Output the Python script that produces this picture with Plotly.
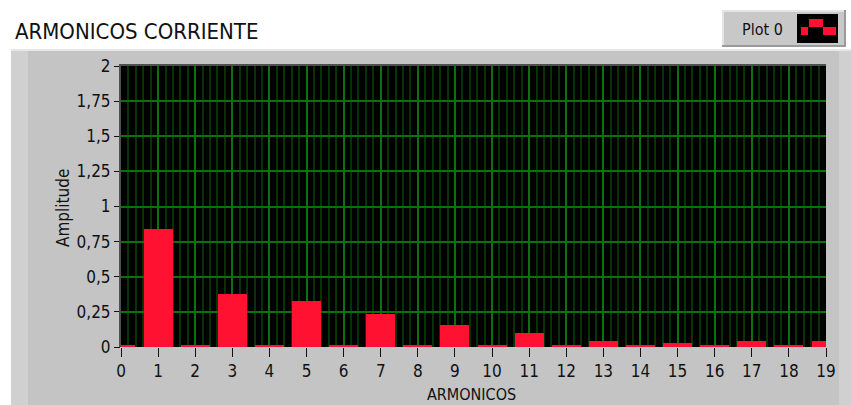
import plotly.graph_objects as go

# Harmonic spectrum of the current signal
harmonics = list(range(20))
amplitude = [0.01, 0.84, 0.01, 0.38, 0.01, 0.33, 0.01, 0.235, 0.01, 0.16,
             0.01, 0.10, 0.01, 0.04, 0.01, 0.025, 0.01, 0.045, 0.01, 0.045]
y_tick_vals = [0, 0.25, 0.5, 0.75, 1, 1.25, 1.5, 1.75, 2]
y_tick_text = ["0", "0,25", "0,5", "0,75", "1", "1,25", "1,5", "1,75", "2"]
x_tick_vals = list(range(20))

W, H = 851, 405
L, R, T, B = 121, 25, 66, 58
PW, PH = W - L - R, H - T - B

FONT = "Liberation Sans Narrow, DejaVu Sans Condensed, Liberation Sans, sans-serif"
PANEL = "#c4c4c4"
BAR_RED = "#ff1131"


def px(x):
    return (x - L) / PW


def py(y):
    return (H - B - y) / PH


def rect(x0, y0, x1, y1, fill, layer="above", line=None):
    d = dict(type="rect", xref="paper", yref="paper",
             x0=px(x0), x1=px(x1), y0=py(y1), y1=py(y0),
             fillcolor=fill, layer=layer, line=dict(width=0))
    if line:
        d["line"] = line
    return d


fig = go.Figure(go.Bar(
    x=harmonics, y=amplitude, width=0.78,
    marker=dict(color=BAR_RED, line=dict(width=0)),
))

shapes = [
    # instrument panel
    rect(11, 49, 851, 405, PANEL, "below"),
    rect(11, 49, 28, 405, "#d0d0d0", "below"),
    rect(839, 49, 851, 405, "#d0d0d0", "below"),
    rect(11, 49, 851, 51, "#e6e6e6", "below"),
    # plotting area
    rect(L, T, W - R, H - B, "#000000", "below"),
    # plotting area frame
    rect(L - 2, T - 2, W - R, T, "#505050"),
    rect(L - 2, T - 2, L, H - B, "#505050"),
    # legend box
    rect(722, 10, 846, 47, "#c8c8c8"),
    rect(722, 10, 846, 12, "#e4e4e4"),
    rect(722, 10, 724, 47, "#e4e4e4"),
    rect(722, 45, 846, 47, "#9a9a9a"),
    rect(844, 10, 846, 47, "#9a9a9a"),
    rect(797, 14, 838, 43, "#000000"),
    rect(801, 27, 808, 35, BAR_RED),
    rect(809, 19, 823, 27, BAR_RED),
    rect(823, 27, 836, 35, BAR_RED),
]

annotations = [
    dict(text="ARMONICOS CORRIENTE", xref="paper", yref="paper",
         x=px(13), y=py(31), xanchor="left", yanchor="middle", showarrow=False,
         font=dict(family=FONT, size=22, color="#111111")),
    dict(text="Plot 0", xref="paper", yref="paper",
         x=px(762), y=py(29), xanchor="center", yanchor="middle", showarrow=False,
         font=dict(family=FONT, size=16, color="#111111")),
    dict(text="ARMONICOS", xref="paper", yref="paper",
         x=px(471), y=py(394), xanchor="center", yanchor="middle", showarrow=False,
         font=dict(family=FONT, size=16, color="#111111")),
    dict(text="Amplitude", xref="paper", yref="paper", textangle=-90,
         x=px(63), y=py(208), xanchor="center", yanchor="middle", showarrow=False,
         font=dict(family=FONT, size=17, color="#111111")),
]

fig.update_layout(
    width=W, height=H,
    margin=dict(l=L, r=R, t=T, b=B, pad=0),
    paper_bgcolor="#ffffff",
    plot_bgcolor="rgba(0,0,0,0)",
    showlegend=False,
    shapes=shapes,
    annotations=annotations,
    bargap=0,
)

fig.update_xaxes(
    range=[0, 19], tickvals=x_tick_vals, ticks="outside", ticklen=9,
    tickcolor="#111111", tickwidth=1,
    showgrid=True, gridcolor="#0a720a", gridwidth=2,
    minor=dict(dtick=0.2, tick0=0, showgrid=True, gridcolor="#073307", gridwidth=2, ticks=""),
    zeroline=False, showline=False,
    tickfont=dict(family=FONT, size=17, color="#111111"),
)
fig.update_yaxes(
    range=[0, 2], tickvals=y_tick_vals, ticktext=y_tick_text, ticks="outside",
    ticklen=6, tickcolor="#111111", tickwidth=1,
    showgrid=True, gridcolor="#0a720a", gridwidth=2,
    zeroline=False, showline=False,
    tickfont=dict(family=FONT, size=17, color="#111111"),
)

fig.write_html("out.html")
